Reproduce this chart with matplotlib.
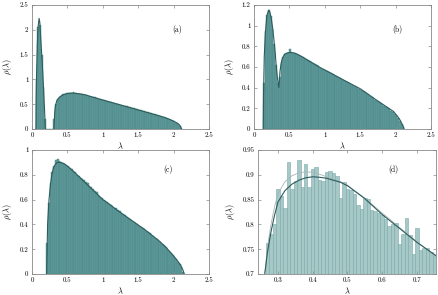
import numpy as np
import matplotlib
matplotlib.use("Agg")
import matplotlib.pyplot as plt
from matplotlib.ticker import FormatStrFormatter

plt.rcParams['font.family'] = 'serif'
plt.rcParams['font.serif'] = ['cmr10']
plt.rcParams['mathtext.fontset'] = 'cm'
plt.rcParams['axes.formatter.use_mathtext'] = True

# ---- panel (a): histogram, bins of 0.025 starting at 0.05
a_start, a_width = 0.05, 0.025
a_hist = [1.00, 2.05, 2.10, 1.50, 0.85, 0.20, 0, 0, 0, 0,
          0.20, 0.50, 0.60, 0.65, 0.675, 0.70, 0.71, 0.72, 0.725, 0.73,
          0.725, 0.745, 0.72, 0.715, 0.71, 0.705, 0.70, 0.69, 0.68, 0.675,
          0.665, 0.655, 0.645, 0.64, 0.625, 0.61, 0.60, 0.59, 0.575, 0.57,
          0.56, 0.55, 0.54, 0.53, 0.525, 0.51, 0.505, 0.49, 0.485, 0.47,
          0.465, 0.455, 0.445, 0.435, 0.425, 0.415, 0.405, 0.395, 0.385, 0.375,
          0.365, 0.355, 0.345, 0.335, 0.325, 0.315, 0.305, 0.295, 0.285, 0.27,
          0.26, 0.25, 0.235, 0.225, 0.21, 0.195, 0.18, 0.165, 0.145, 0.125,
          0.095, 0.06, 0.015]
a_curve1_x = [0.055, 0.058, 0.065, 0.075, 0.085, 0.10, 0.11, 0.123, 0.137, 0.151, 0.165, 0.178, 0.188]
a_curve1_y = [0, 0.6, 1.15, 1.7, 2.05, 2.23, 2.15, 1.83, 1.5, 1.16, 0.75, 0.35, 0]
a_curve2_x = [0.31, 0.32, 0.33, 0.35, 0.38, 0.42, 0.47, 0.52, 0.58, 0.65, 0.75, 0.9, 1.0,
              1.2, 1.4, 1.6, 1.8, 1.9, 2.0, 2.05, 2.08, 2.1, 2.11]
a_curve2_y = [0, 0.33, 0.46, 0.57, 0.63, 0.675, 0.705, 0.72, 0.725, 0.715, 0.69, 0.625, 0.585,
              0.505, 0.425, 0.345, 0.265, 0.22, 0.16, 0.12, 0.085, 0.045, 0]

# ---- panel (b)
b_start, b_width = 0.125, 0.025
b_hist = [0.45, 0.95, 1.10, 1.15, 1.09, 0.97, 0.82, 0.62, 0.45, 0.50,
          0.65, 0.70, 0.725, 0.735, 0.74, 0.77, 0.74, 0.735, 0.73, 0.725,
          0.715, 0.71, 0.70, 0.69, 0.68, 0.665, 0.655, 0.645, 0.635, 0.625,
          0.615, 0.605, 0.595, 0.585, 0.575, 0.565, 0.56, 0.55, 0.54, 0.53,
          0.52, 0.51, 0.50, 0.49, 0.48, 0.475, 0.465, 0.455, 0.445, 0.435,
          0.425, 0.415, 0.405, 0.395, 0.385, 0.375, 0.365, 0.355, 0.345, 0.335,
          0.32, 0.31, 0.30, 0.285, 0.275, 0.26, 0.25, 0.24, 0.225, 0.215,
          0.20, 0.19, 0.175, 0.165, 0.15, 0.13, 0.11, 0.08, 0.05, 0.015]
b_curve_x = [0.13, 0.135, 0.145, 0.16, 0.183, 0.207, 0.225, 0.244, 0.265, 0.282, 0.30, 0.315,
             0.33, 0.35, 0.36, 0.367, 0.38, 0.395, 0.42, 0.44, 0.48, 0.517, 0.583, 0.677,
             0.79, 0.935, 1.0, 1.26, 1.5, 1.73, 1.85, 1.97, 2.03, 2.06, 2.09, 2.11, 2.12]
b_curve_y = [0, 0.35, 0.7, 0.93, 1.10, 1.15, 1.13, 1.07, 0.97, 0.86, 0.73, 0.60,
             0.50, 0.40, 0.48, 0.556, 0.62, 0.67, 0.71, 0.727, 0.738, 0.742, 0.733, 0.70,
             0.653, 0.595, 0.572, 0.476, 0.39, 0.28, 0.225, 0.17, 0.12, 0.09, 0.05, 0.02, 0]

# ---- panel (c)
c_start, c_width = 0.2, 0.025
c_hist = [0.25, 0.57, 0.73, 0.82, 0.87, 0.92, 0.925, 0.91, 0.905, 0.895,
          0.885, 0.875, 0.87, 0.855, 0.845, 0.83, 0.82, 0.80, 0.79, 0.775,
          0.77, 0.755, 0.74, 0.73, 0.71, 0.70, 0.685, 0.67, 0.66, 0.64,
          0.62, 0.61, 0.60, 0.585, 0.58, 0.565, 0.555, 0.545, 0.535, 0.53,
          0.52, 0.505, 0.495, 0.48, 0.475, 0.46, 0.455, 0.445, 0.43, 0.42,
          0.41, 0.40, 0.39, 0.38, 0.37, 0.36, 0.35, 0.34, 0.33, 0.315,
          0.305, 0.29, 0.28, 0.27, 0.255, 0.245, 0.23, 0.215, 0.20, 0.185,
          0.17, 0.155, 0.14, 0.12, 0.10, 0.08, 0.055, 0.02]
c_curve_x = [0.207, 0.22, 0.24, 0.26, 0.28, 0.30, 0.33, 0.36, 0.40, 0.45, 0.50, 0.60, 0.70,
             0.80, 0.90, 1.00, 1.10, 1.20, 1.30, 1.40, 1.50, 1.60, 1.70, 1.80, 1.90, 2.00,
             2.05, 2.10, 2.13, 2.15]
c_curve_y = [0, 0.40, 0.60, 0.72, 0.80, 0.85, 0.885, 0.90, 0.90, 0.89, 0.87, 0.82, 0.765,
             0.71, 0.655, 0.60, 0.56, 0.515, 0.475, 0.435, 0.395, 0.355, 0.31, 0.265, 0.21, 0.145,
             0.11, 0.07, 0.035, 0]

# ---- panel (d): zoom of (c), bins of 0.01
d_start, d_width = 0.265, 0.01
d_hist = [0.763, 0.780, 0.800, 0.872, 0.858, 0.833, 0.926, 0.872, 0.887, 0.930,
          0.875, 0.921, 0.876, 0.912, 0.915, 0.889, 0.887, 0.905, 0.908, 0.903,
          0.898, 0.853, 0.885, 0.872, 0.870, 0.862, 0.840, 0.832, 0.853, 0.851,
          0.830, 0.828, 0.822, 0.818, 0.811, 0.797, 0.800, 0.803, 0.760, 0.780,
          0.813, 0.778, 0.741, 0.793, 0.748, 0.752, 0.752, 0.745, 0.738]
d_x = [0.262, 0.27, 0.28, 0.29, 0.30, 0.32, 0.34, 0.36, 0.38, 0.40, 0.42, 0.44, 0.46,
       0.48, 0.50, 0.55, 0.60, 0.65, 0.70, 0.755]
d_dark = [0.700, 0.745, 0.785, 0.818, 0.845, 0.868, 0.881, 0.889, 0.894, 0.896, 0.895, 0.893,
          0.889, 0.885, 0.878, 0.852, 0.820, 0.792, 0.764, 0.737]
d_light = [0.700, 0.755, 0.800, 0.835, 0.862, 0.886, 0.898, 0.904, 0.906, 0.905, 0.901, 0.896,
           0.891, 0.886, 0.879, 0.853, 0.823, 0.794, 0.765, 0.735]

bar_face = '#5f9999'
bar_edge = '#4c8888'
line_col = '#2c5c5c'
spine_col = '#888888'

fig = plt.figure(figsize=(4.38, 2.95), dpi=100)
ax_a = fig.add_axes([0.0731, 0.5627, 0.4041, 0.4203])
ax_b = fig.add_axes([0.5799, 0.5627, 0.4041, 0.4203])
ax_c = fig.add_axes([0.0731, 0.0712, 0.4041, 0.4203])
ax_d = fig.add_axes([0.5890, 0.0712, 0.4064, 0.4203])


def centers(start, width, vals):
    return start + width * (np.arange(len(vals)) + 0.5)


def style(ax, tag, tx, ty):
    for s in ax.spines.values():
        s.set_color(spine_col)
        s.set_linewidth(0.6)
    ax.tick_params(direction='in', top=True, right=True, labelsize=5,
                   length=2.5, width=0.5, color=spine_col, pad=2.5)
    ax.set_xlabel(r'$\lambda$', fontsize=6, labelpad=2)
    ax.set_ylabel(r'$\rho(\lambda)$', fontsize=6, labelpad=4)
    ax.text(tx, ty, tag, transform=ax.transAxes, fontsize=5.5, ha='center', va='center')


for ax, st, w, h in [(ax_a, a_start, a_width, a_hist),
                     (ax_b, b_start, b_width, b_hist),
                     (ax_c, c_start, c_width, c_hist)]:
    ax.bar(centers(st, w, h), h, width=w, color=bar_face, edgecolor=bar_edge, linewidth=0.3)
    ax.set_xlim(0, 2.5)
    ax.set_xticks([0, 0.5, 1, 1.5, 2, 2.5])
    ax.xaxis.set_major_formatter(FormatStrFormatter('%g'))
    ax.yaxis.set_major_formatter(FormatStrFormatter('%g'))

ax_a.plot(a_curve1_x, a_curve1_y, color=line_col, lw=0.8)
ax_a.plot(a_curve2_x, a_curve2_y, color=line_col, lw=0.8)
ax_a.set_ylim(0, 2.5)
ax_a.set_yticks([0, 0.5, 1, 1.5, 2, 2.5])
style(ax_a, '(a)', 0.82, 0.80)

ax_b.plot(b_curve_x, b_curve_y, color=line_col, lw=0.8)
ax_b.set_ylim(0, 1.2)
ax_b.set_yticks([0, 0.2, 0.4, 0.6, 0.8, 1, 1.2])
style(ax_b, '(b)', 0.81, 0.80)

ax_c.plot(c_curve_x, c_curve_y, color=line_col, lw=0.8)
ax_c.set_ylim(0, 1)
ax_c.set_yticks([0, 0.2, 0.4, 0.6, 0.8, 1])
style(ax_c, '(c)', 0.77, 0.84)

ax_d.bar(centers(d_start, d_width, d_hist), d_hist, width=d_width,
         color='#a6c9c8', edgecolor='#7aa8a8', linewidth=0.4)
ax_d.plot(d_x, d_light, color='#a9b4b4', lw=0.6)
ax_d.plot(d_x, d_dark, color=line_col, lw=0.8)
ax_d.set_xlim(0.2425, 0.755)
ax_d.set_ylim(0.7, 0.95)
ax_d.set_xticks([0.3, 0.4, 0.5, 0.6, 0.7])
ax_d.set_yticks([0.7, 0.75, 0.8, 0.85, 0.9, 0.95])
ax_d.xaxis.set_major_formatter(FormatStrFormatter('%g'))
ax_d.yaxis.set_major_formatter(FormatStrFormatter('%g'))
style(ax_d, '(d)', 0.76, 0.84)

fig.savefig('out.png', dpi=100)
